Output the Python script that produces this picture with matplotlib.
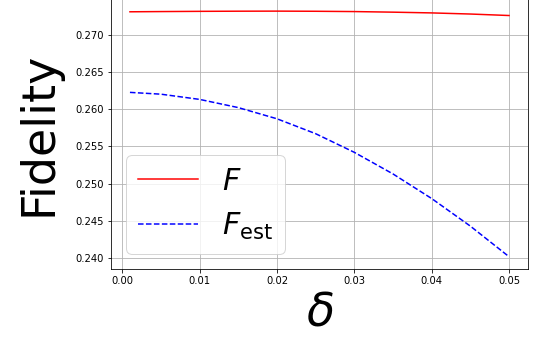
import matplotlib
matplotlib.use("Agg")
import matplotlib.pyplot as plt

# values
delta = [0.001, 0.005, 0.01, 0.015, 0.02, 0.025, 0.03, 0.035, 0.04, 0.045, 0.05]
fid = [0.27305, 0.27308, 0.27311, 0.27313, 0.27314, 0.27312, 0.27308, 0.27300, 0.27290, 0.27275, 0.27255]
fid_est = [0.26224, 0.26200, 0.26130, 0.26020, 0.25870, 0.25670, 0.25420, 0.25130, 0.24800, 0.24430, 0.24020]

fig = plt.figure(figsize=(536 / 72, 343 / 72), dpi=72)
ax = fig.add_axes([111 / 536, 74 / 343, 417 / 536, 271 / 343])

ax.plot(delta, fid, color='red', label='$F$')
ax.plot(delta, fid_est, color='blue', linestyle='--', label=r'$F_{\mathrm{est}}$')

ax.set_ylim(0.23855, 0.27490)
ax.set_yticks([0.240, 0.245, 0.250, 0.255, 0.260, 0.265, 0.270])
ax.grid(True)
ax.set_xlabel(r'$\delta$', fontsize=46)
ax.set_ylabel('Fidelity', fontsize=46, labelpad=14)
ax.legend(loc='lower left', fontsize=30)

fig.savefig('out.png', dpi=72)
